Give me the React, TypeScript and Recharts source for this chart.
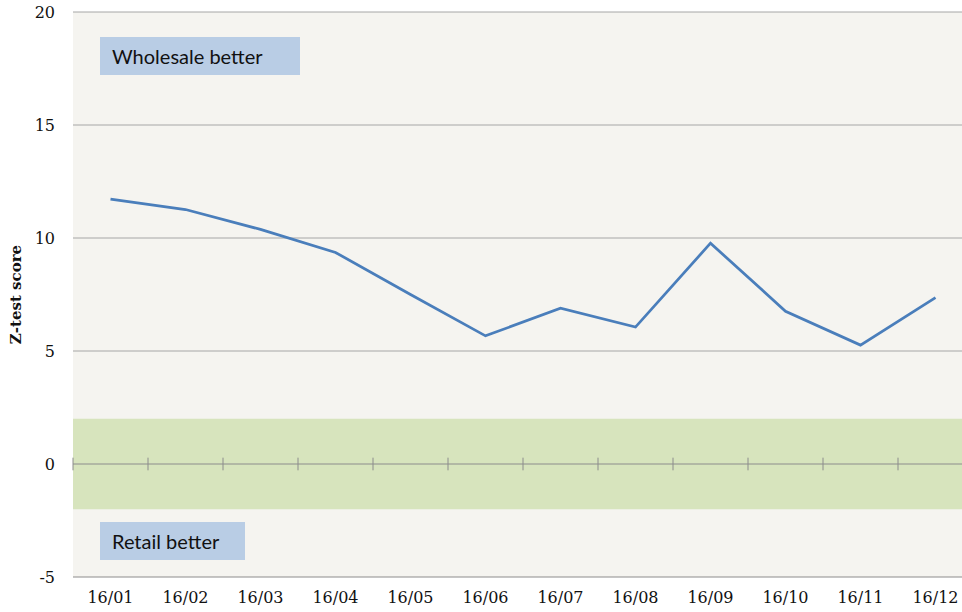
import React from 'react';
import {
  ComposedChart,
  Line,
  XAxis,
  YAxis,
  CartesianGrid,
  ReferenceArea,
  ReferenceLine,
  Label,
} from 'recharts';

const months = ['16/01', '16/02', '16/03', '16/04', '16/05', '16/06', '16/07', '16/08', '16/09', '16/10', '16/11', '16/12'];
const zScores = [11.72, 11.26, 10.38, 9.36, 7.5, 5.67, 6.89, 6.06, 9.77, 6.76, 5.26, 7.36];
const yTicks = [-5, 0, 5, 10, 15, 20];

const data = months.map((m, i) => ({ x: i + 1, label: m, z: zScores[i] }));
const xTicks = data.map((d) => d.x);
// category boundaries where the zero axis carries its tick marks
const boundaries = months.map((_, i) => i + 0.5);

const serif = '"DejaVu Serif", serif';
const boxStyle: React.CSSProperties = {
  position: 'absolute',
  background: '#b9cde5',
  color: '#111',
  fontFamily: 'Lato, "Open Sans", sans-serif',
  fontSize: 20,
  lineHeight: '38px',
  height: 38,
  paddingLeft: 12,
  boxSizing: 'border-box',
};

export default function App() {
  // the plot runs a little past the right edge of the picture, as in the original
  return (
    <div style={{ position: 'absolute', left: 0, top: 0, width: 962, height: 612, overflow: 'hidden', background: '#fff' }}>
      <ComposedChart width={973} height={612} data={data} margin={{ top: 12, right: 0, bottom: 0, left: 0 }}>
        <CartesianGrid
          vertical={false}
          fill="#f5f4f0"
          stroke="#a6a6a6"
          horizontalValues={[5, 10, 15, 20]}
        />
        <ReferenceArea y1={-2} y2={2} fill="#d7e4bd" fillOpacity={1} stroke="none" />
        <XAxis
          type="number"
          dataKey="x"
          domain={[0.5, 12.5]}
          ticks={xTicks}
          tickFormatter={(v: number) => months[v - 1]}
          interval={0}
          height={35}
          axisLine={{ stroke: '#8c8c8c' }}
          tickLine={false}
          tickMargin={9}
          tick={{ fill: '#111', fontFamily: serif, fontSize: 16 }}
        />
        <YAxis
          type="number"
          domain={[-5, 20]}
          ticks={yTicks}
          width={73}
          axisLine={false}
          tickLine={false}
          tickMargin={12}
          tick={{ fill: '#111', fontFamily: serif, fontSize: 16 }}
        >
          <Label
            value="Z-test score"
            angle={-90}
            position="insideLeft"
            offset={16}
            style={{ fontFamily: serif, fontWeight: 'bold', fontSize: 15, fill: '#111', textAnchor: 'middle' }}
          />
        </YAxis>
        <ReferenceLine y={0} stroke="#8c8c8c" />
        {boundaries.map((b) => (
          <ReferenceLine
            key={b}
            segment={[{ x: b, y: -0.28 }, { x: b, y: 0.28 }]}
            stroke="#8c8c8c"
          />
        ))}
        <Line
          type="linear"
          dataKey="z"
          stroke="#4a7ebb"
          strokeWidth={2.75}
          dot={false}
          activeDot={false}
          isAnimationActive={false}
        />
      </ComposedChart>
      <div style={{ ...boxStyle, left: 100, top: 37, width: 200 }}>Wholesale better</div>
      <div style={{ ...boxStyle, left: 100, top: 522, width: 145 }}>Retail better</div>
    </div>
  );
}
